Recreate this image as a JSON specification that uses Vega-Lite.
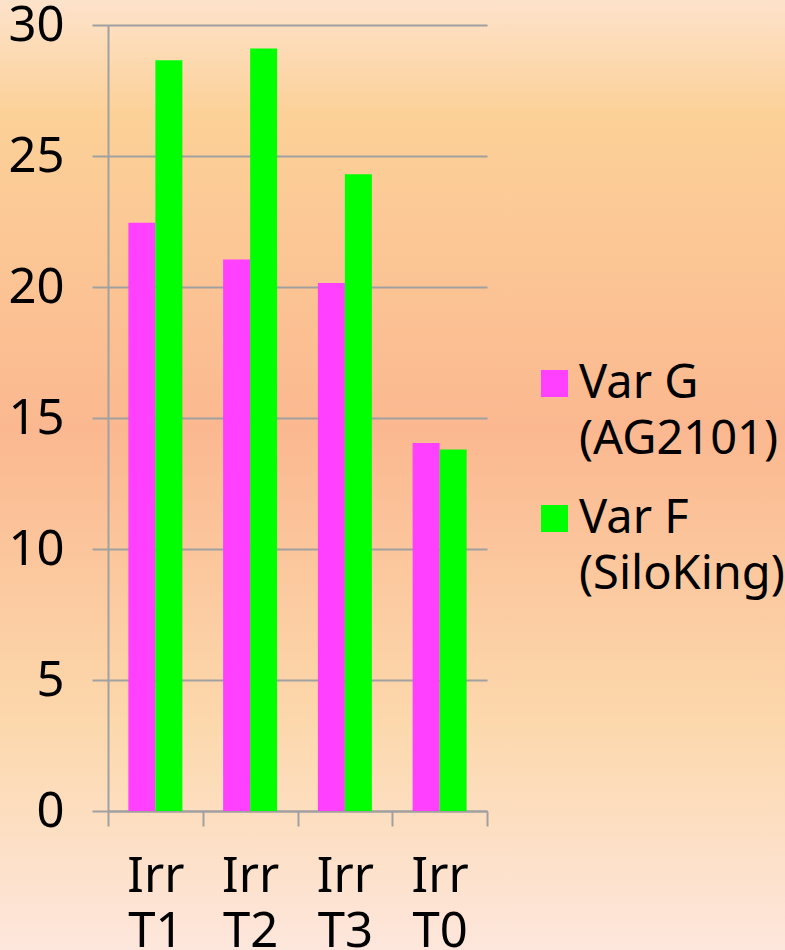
{
  "$schema": "https://vega.github.io/schema/vega-lite/v6.json",
  "width": 785,
  "height": 950,
  "autosize": {"type": "none"},
  "padding": 0,
  "background": "#fcc9a2",
  "config": {
    "view": {
      "stroke": null,
      "fill": {
        "gradient": "linear",
        "x1": 0, "y1": 0, "x2": 0, "y2": 1,
        "stops": [
          {"offset": 0, "color": "#fde2cb"},
          {"offset": 0.12, "color": "#fcd198"},
          {"offset": 0.45, "color": "#fbb890"},
          {"offset": 0.76, "color": "#fcd8ac"},
          {"offset": 1, "color": "#fde6dc"}
        ]
      }
    },
    "style": {"guide-label": {"lineHeight": 56}},
    "axis": {
      "labelFont": "Noto Sans",
      "labelFontSize": 49,
      "labelColor": "#000000",
      "domainColor": "#a0a0a0",
      "domainWidth": 2,
      "tickColor": "#a0a0a0",
      "tickWidth": 2,
      "gridColor": "#a0a0a0",
      "gridWidth": 2,
      "title": null
    },
    "legend": {
      "labelFont": "Noto Sans",
      "labelFontSize": 47,
      "labelColor": "#000000"
    }
  },
  "data": {
    "values": [
      {"treatment": "Irr T1", "variety": "Var G (AG2101)", "value": 22.45},
      {"treatment": "Irr T1", "variety": "Var F (SiloKing)", "value": 28.65},
      {"treatment": "Irr T2", "variety": "Var G (AG2101)", "value": 21.05},
      {"treatment": "Irr T2", "variety": "Var F (SiloKing)", "value": 29.1},
      {"treatment": "Irr T3", "variety": "Var G (AG2101)", "value": 20.15},
      {"treatment": "Irr T3", "variety": "Var F (SiloKing)", "value": 24.3},
      {"treatment": "Irr T0", "variety": "Var G (AG2101)", "value": 14.05},
      {"treatment": "Irr T0", "variety": "Var F (SiloKing)", "value": 13.8}
    ]
  },
  "mark": {"type": "bar"},
  "encoding": {
    "x": {
      "field": "treatment",
      "type": "nominal",
      "sort": ["Irr T1", "Irr T2", "Irr T3", "Irr T0"],
      "scale": {"range": [108, 487], "paddingInner": 0, "paddingOuter": 0},
      "axis": {
        "orient": "bottom",
        "offset": -139,
        "labelAngle": 0,
        "tickBand": "extent",
        "tickSize": 15,
        "labelPadding": 26,
        "labelLineHeight": 55,
        "labelExpr": "split(datum.label, ' ')",
        "grid": false
      }
    },
    "xOffset": {
      "field": "variety",
      "type": "nominal",
      "sort": ["Var G (AG2101)", "Var F (SiloKing)"],
      "scale": {"paddingInner": 0, "paddingOuter": 0.755}
    },
    "y": {
      "field": "value",
      "type": "quantitative",
      "stack": null,
      "scale": {"domain": [0, 30], "range": [811, 25], "nice": false, "zero": true},
      "axis": {
        "orient": "left",
        "offset": -108,
        "values": [0, 5, 10, 15, 20, 25, 30],
        "tickSize": 16,
        "labelPadding": 28,
        "grid": true
      }
    },
    "color": {
      "field": "variety",
      "type": "nominal",
      "scale": {
        "domain": ["Var G (AG2101)", "Var F (SiloKing)"],
        "range": ["#ff40ff", "#00ff00"]
      },
      "legend": {
        "title": null,
        "orient": "none",
        "legendX": 531,
        "legendY": 360,
        "padding": 0,
        "symbolType": "square",
        "symbolSize": 729,
        "symbolStrokeWidth": 0,
        "symbolOpacity": 1,
        "labelOffset": 1,
        "labelLimit": 400,
        "rowPadding": 31,
        "labelExpr": "[slice(datum.label, 0, indexof(datum.label, ' (')), slice(datum.label, indexof(datum.label, ' (') + 1)]"
      }
    }
  }
}
